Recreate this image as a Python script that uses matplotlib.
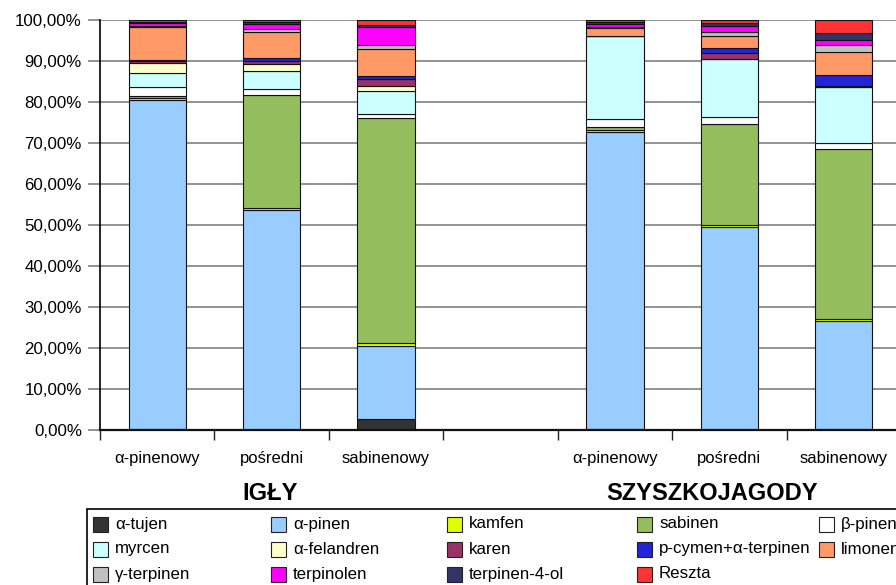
import numpy as np
import matplotlib
matplotlib.use("Agg")
import matplotlib.pyplot as plt
from matplotlib.patches import Rectangle

plt.rcParams["font.family"] = ["Liberation Sans", "DejaVu Sans"]

# Category slots: three needle types, an empty gap, three berry-cone types
categories = ["α-pinenowy", "pośredni", "sabinenowy", "", "α-pinenowy", "pośredni", "sabinenowy"]
groups = ["IGŁY", "SZYSZKOJAGODY"]

components = ["α-tujen", "α-pinen", "kamfen", "sabinen", "β-pinen",
              "myrcen", "α-felandren", "karen", "p-cymen+α-terpinen", "limonen",
              "γ-terpinen", "terpinolen", "terpinen-4-ol", "Reszta"]

# Share of each component (%) per chemotype; the empty slot is all zeros
a_tujen        = [0.3, 0.1, 2.6, 0, 0.2, 0.1, 0.2]
a_pinen        = [80.2, 53.6, 17.9, 0, 72.6, 49.5, 26.3]
kamfen         = [0.4, 0.4, 0.6, 0, 0.4, 0.5, 0.5]
sabinen        = [0.6, 27.5, 54.9, 0, 0.6, 24.6, 41.6]
b_pinen        = [2.2, 1.6, 1.1, 0, 2.1, 1.6, 1.5]
myrcen         = [3.4, 4.4, 5.7, 0, 20.2, 14.1, 13.5]
a_felandren    = [2.3, 1.6, 1.2, 0, 0.1, 0.0, 0.1]
karen          = [0.6, 0.8, 1.6, 0, 0.0, 1.6, 0.2]
p_cymen        = [0.2, 0.7, 0.7, 0, 0.0, 1.2, 2.6]
limonen        = [8.2, 6.4, 6.6, 0, 1.9, 2.8, 5.8]
g_terpinen     = [0.2, 0.7, 1.1, 0, 0.3, 1.1, 1.5]
terpinolen     = [0.7, 1.2, 4.4, 0, 0.7, 1.4, 1.3]
terpinen_4_ol  = [0.2, 0.4, 0.4, 0, 0.3, 0.7, 1.8]
reszta         = [0.5, 0.6, 1.2, 0, 0.6, 0.8, 3.1]

series = [a_tujen, a_pinen, kamfen, sabinen, b_pinen, myrcen, a_felandren,
          karen, p_cymen, limonen, g_terpinen, terpinolen, terpinen_4_ol, reszta]

colors = ["#333333", "#99CCFF", "#E2FF00", "#94BD5E", "#FFFFFF",
          "#CCFFFF", "#FFFFCC", "#993366", "#2323D8", "#FF9966",
          "#C0C0C0", "#FF00FF", "#333366", "#FF3333"]

y_ticks = [0, 10, 20, 30, 40, 50, 60, 70, 80, 90, 100]
y_tick_labels = ["0,00%", "10,00%", "20,00%", "30,00%", "40,00%", "50,00%",
                 "60,00%", "70,00%", "80,00%", "90,00%", "100,00%"]

W, H = 896, 585
fig = plt.figure(figsize=(W / 100, H / 100), dpi=100)


def fx(px):
    return px / W


def fy(py):
    return 1 - py / H


ax = fig.add_axes([fx(100), fy(430), 801 / W, 410 / H])

x = np.arange(len(categories))
bottom = np.zeros(len(categories))
for vals, col in zip(series, colors):
    v = np.array(vals, dtype=float)
    ax.bar(x, v, width=0.5, bottom=bottom, color=col, edgecolor="#111111",
           linewidth=0.8, zorder=3)
    bottom += v

ax.set_xlim(-0.5, len(categories) - 0.5)
ax.set_ylim(0, 100)

ax.set_yticks(y_ticks)
ax.set_yticklabels(y_tick_labels, fontsize=12.2)
ax.yaxis.grid(True, color="#808080", linewidth=1.2, zorder=0)
ax.tick_params(axis="y", length=8.5, width=1.2, color="#808080", pad=4.5)

ax.set_xticks(np.arange(-0.5, len(categories)), minor=False)
ax.set_xticklabels([])
ax.tick_params(axis="x", which="major", length=7.5, width=1, color="#222222")
ax.set_xticks([i for i, c in enumerate(categories) if c], minor=True)
ax.set_xticklabels([c for c in categories if c], minor=True, fontsize=12)
ax.tick_params(axis="x", which="minor", length=0, pad=15)

for s in ["top", "right"]:
    ax.spines[s].set_visible(False)
ax.spines["left"].set_color("black")
ax.spines["left"].set_linewidth(1.2)
ax.spines["bottom"].set_color("#111111")
ax.spines["bottom"].set_linewidth(1.6)
ax.spines["bottom"].set_zorder(5)

# Group labels under the category names
fig.text(fx(270), fy(493), groups[0], fontsize=17, fontweight="bold",
         ha="center", va="center")
fig.text(fx(712), fy(493), groups[1], fontsize=17, fontweight="bold",
         ha="center", va="center")

# Legend box laid out in five columns, filled row by row
fig.add_artist(Rectangle((fx(87), fy(600)), fx(830), 91 / H,
                         transform=fig.transFigure, facecolor="white",
                         edgecolor="black", linewidth=1.2))
col_x = [93, 271, 447, 637, 819]
row_y = [524, 549, 574]
for i, (name, col) in enumerate(zip(components, colors)):
    r, c = divmod(i, 5)
    px, py = col_x[c], row_y[r]
    fig.add_artist(Rectangle((fx(px), fy(py + 7.5)), 15 / W, 15 / H,
                             transform=fig.transFigure, facecolor=col,
                             edgecolor="#222222", linewidth=0.8))
    fig.text(fx(px + 22), fy(py), name, fontsize=12.2, ha="left", va="center")

fig.savefig("out.png", dpi=100)
